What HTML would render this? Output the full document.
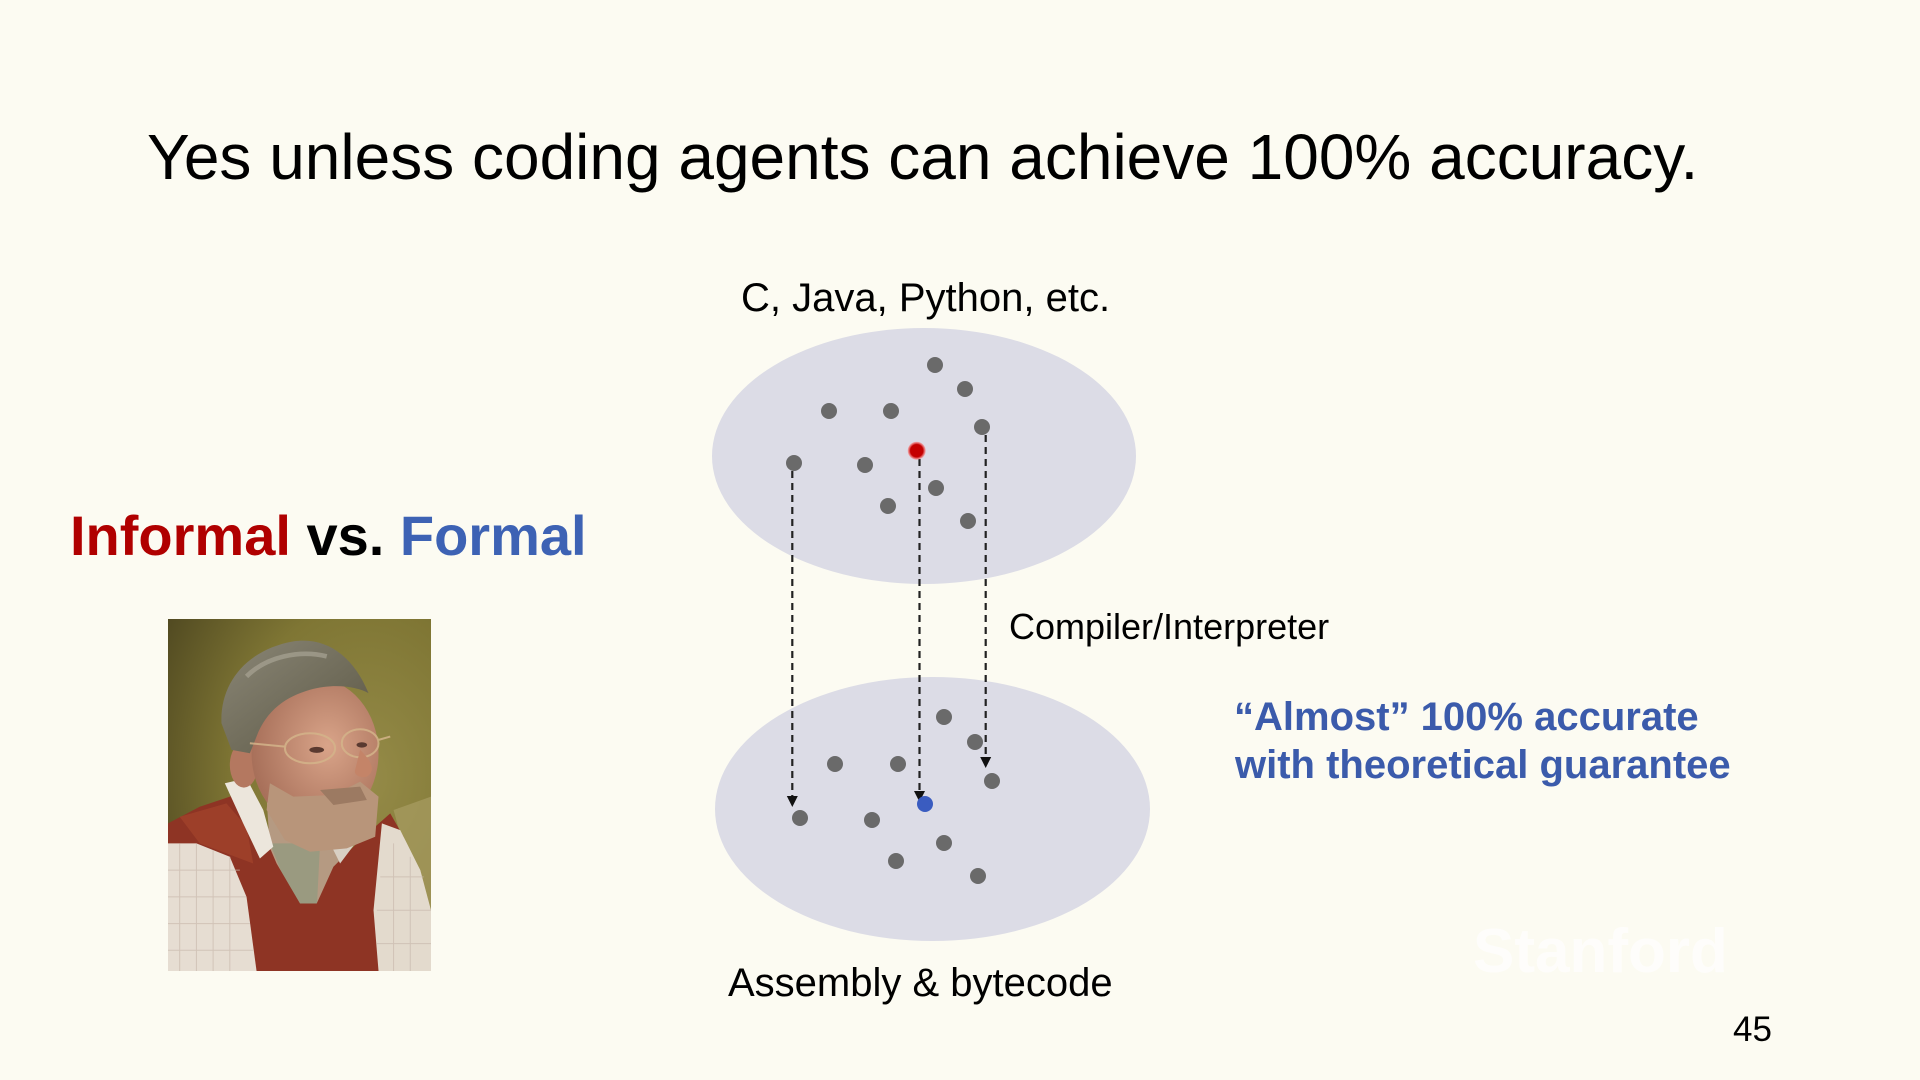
<!DOCTYPE html>
<html>
<head>
<meta charset="utf-8">
<style>
  html, body { margin: 0; padding: 0; background: #fcfbf2; }
  body { width: 1920px; height: 1080px; overflow: hidden; }
  svg { display: block; }
</style>
</head>
<body>
<svg width="1920" height="1080" viewBox="0 0 1920 1080" xmlns="http://www.w3.org/2000/svg">
  <defs>
    <radialGradient id="bgPhoto" cx="0.75" cy="0.45" r="0.9">
      <stop offset="0" stop-color="#958b48"/>
      <stop offset="0.55" stop-color="#7f7634"/>
      <stop offset="1" stop-color="#4e4720"/>
    </radialGradient>
    <radialGradient id="face" cx="0.6" cy="0.45" r="0.6">
      <stop offset="0" stop-color="#d9a489"/>
      <stop offset="1" stop-color="#a8705a"/>
    </radialGradient>
    <linearGradient id="hair" x1="0" y1="0" x2="1" y2="1">
      <stop offset="0" stop-color="#8a8676"/>
      <stop offset="0.6" stop-color="#6e6a58"/>
      <stop offset="1" stop-color="#5a5240"/>
    </linearGradient>
    <radialGradient id="reddot" cx="0.5" cy="0.5" r="0.5">
      <stop offset="0.7" stop-color="#c40000"/>
      <stop offset="1" stop-color="#ff8a8a" stop-opacity="0.6"/>
    </radialGradient>
  </defs>

  <rect x="0" y="0" width="1920" height="1080" fill="#fcfbf2"/>

  <!-- Title -->
  <text x="147" y="179" font-family="'Liberation Sans', Arial, sans-serif" font-size="64" fill="#000">Yes unless coding agents can achieve 100% accuracy.</text>

  <!-- Informal vs. Formal -->
  <text x="70" y="555" font-family="'Liberation Sans', Arial, sans-serif" font-size="56" font-weight="bold"><tspan fill="#b00000">Informal</tspan><tspan fill="#000"> vs. </tspan><tspan fill="#3d62b4">Formal</tspan></text>

  <!-- Photo -->
  <svg x="168" y="619" width="263" height="352" viewBox="25 28 787 1054" preserveAspectRatio="none">
    <rect x="25" y="28" width="787" height="1054" fill="url(#bgPhoto)"/>
    <path d="M700 600 L812 560 L812 900 L760 820 Z" fill="#a89c62" opacity="0.7"/>
    <!-- neck / inner shirt -->
    <path d="M320 560 L520 560 L540 760 L470 900 L400 880 L330 720 Z" fill="#b59a82"/>
    <path d="M330 700 L480 700 L470 900 L410 900 Z" fill="#9a9a80"/>
    <!-- vest -->
    <path d="M25 640 L120 590 L225 555 L290 620 L350 760 L420 880 L470 880 L520 770 L600 690 L690 610 L730 680 L745 1082 L25 1082 Z" fill="#8e3424"/>
    <path d="M60 620 L200 580 L260 650 L280 760 L120 700 Z" fill="#a4442c" opacity="0.7"/>
    <!-- left sleeve -->
    <path d="M25 700 L110 700 L210 740 L260 860 L290 1082 L25 1082 Z" fill="#e6ddd2"/>
    <!-- right sleeve -->
    <path d="M665 640 L720 660 L780 780 L812 900 L812 1082 L655 1082 L640 900 Z" fill="#e3dacd"/>
    <!-- checks -->
    <g stroke="#c9b9ad" stroke-width="3" opacity="0.7">
      <line x1="60" y1="700" x2="60" y2="1082"/><line x1="110" y1="700" x2="110" y2="1082"/>
      <line x1="160" y1="720" x2="160" y2="1082"/><line x1="210" y1="740" x2="210" y2="1082"/>
      <line x1="25" y1="780" x2="240" y2="780"/><line x1="25" y1="860" x2="260" y2="860"/>
      <line x1="25" y1="940" x2="270" y2="940"/><line x1="25" y1="1020" x2="280" y2="1020"/>
      <line x1="700" y1="700" x2="700" y2="1082"/><line x1="750" y1="740" x2="750" y2="1082"/>
      <line x1="660" y1="800" x2="790" y2="800"/><line x1="650" y1="900" x2="812" y2="900"/>
      <line x1="650" y1="1000" x2="812" y2="1000"/>
    </g>
    <!-- collar -->
    <path d="M195 520 L260 505 L310 600 L340 710 L300 745 L250 640 Z" fill="#ece6dc"/>
    <path d="M500 610 L560 600 L600 680 L540 760 L510 700 Z" fill="#d8d0c4"/>
    <!-- ear -->
    <ellipse cx="252" cy="465" rx="42" ry="68" fill="#b47860"/>
    <!-- face -->
    <ellipse cx="465" cy="430" rx="190" ry="225" fill="url(#face)"/>
    <!-- beard -->
    <path d="M330 520 L400 560 L520 555 L600 515 L655 560 L645 680 L560 715 L450 725 L375 690 L320 600 Z" fill="#b8957a"/>
    <path d="M480 540 L600 530 L620 570 L520 585 Z" fill="#9c7a62"/>
    <!-- hair -->
    <path d="M185 340 C180 220 260 120 400 95 C500 80 580 140 625 250 C590 230 520 220 450 240 C380 260 320 300 290 380 L270 430 L215 420 Z" fill="url(#hair)"/>
    <path d="M260 200 C320 140 420 120 500 140" stroke="#a8a494" stroke-width="14" fill="none" opacity="0.7"/>
    <!-- glasses -->
    <g fill="none" stroke="#d4b48a" stroke-width="6" opacity="0.85">
      <ellipse cx="450" cy="415" rx="75" ry="45"/>
      <ellipse cx="600" cy="400" rx="55" ry="42"/>
      <line x1="270" y1="400" x2="375" y2="410"/>
      <line x1="655" y1="390" x2="690" y2="380"/>
    </g>
    <!-- eyes -->
    <ellipse cx="470" cy="420" rx="22" ry="9" fill="#5a3a30"/>
    <ellipse cx="605" cy="405" rx="16" ry="8" fill="#5a3a30"/>
    <!-- nose -->
    <path d="M600 420 C630 450 650 480 620 500 C600 505 580 495 585 480 Z" fill="#c48468"/>
  </svg>

  <!-- Ellipses -->
  <ellipse cx="924" cy="456" rx="212" ry="128" fill="#dcdce6"/>
  <ellipse cx="932.5" cy="809" rx="217.5" ry="132" fill="#dcdce6"/>

  <!-- Dashed connectors -->
  <g stroke="#222" stroke-width="2.2" stroke-dasharray="7 5" fill="none">
    <line x1="792.3" y1="471" x2="792.3" y2="797"/>
    <line x1="919.5" y1="459" x2="919.5" y2="792"/>
    <line x1="985.7" y1="435" x2="985.7" y2="758"/>
  </g>
  <g fill="#111">
    <polygon points="786.8,796 797.8,796 792.3,807"/>
    <polygon points="914,791 925,791 919.5,802"/>
    <polygon points="980.2,757 991.2,757 985.7,768"/>
  </g>

  <!-- Top dots -->
  <g fill="#6a6a6a">
    <circle cx="935" cy="365" r="8"/>
    <circle cx="965" cy="389" r="8"/>
    <circle cx="829" cy="411" r="8"/>
    <circle cx="891" cy="411" r="8"/>
    <circle cx="982" cy="427" r="8"/>
    <circle cx="794" cy="463" r="8"/>
    <circle cx="865" cy="465" r="8"/>
    <circle cx="936" cy="488" r="8"/>
    <circle cx="888" cy="506" r="8"/>
    <circle cx="968" cy="521" r="8"/>
  </g>
  <circle cx="916.7" cy="450.7" r="9" fill="url(#reddot)"/>

  <!-- Bottom dots -->
  <g fill="#6a6a6a">
    <circle cx="944" cy="717" r="8"/>
    <circle cx="975" cy="742" r="8"/>
    <circle cx="835" cy="764" r="8"/>
    <circle cx="898" cy="764" r="8"/>
    <circle cx="992" cy="781" r="8"/>
    <circle cx="800" cy="818" r="8"/>
    <circle cx="872" cy="820" r="8"/>
    <circle cx="944" cy="843" r="8"/>
    <circle cx="896" cy="861" r="8"/>
    <circle cx="978" cy="876" r="8"/>
  </g>
  <circle cx="925" cy="804" r="8" fill="#3a5cc0"/>

  <!-- Labels -->
  <text x="741" y="311" font-family="'Liberation Sans', Arial, sans-serif" font-size="40" fill="#000">C, Java, Python, etc.</text>
  <text x="1009" y="639" font-family="'Liberation Sans', Arial, sans-serif" font-size="36" fill="#000">Compiler/Interpreter</text>
  <text x="728" y="996" font-family="'Liberation Sans', Arial, sans-serif" font-size="40" fill="#000">Assembly &amp; bytecode</text>

  <text font-family="'Liberation Sans', Arial, sans-serif" font-size="40" font-weight="bold" fill="#3b5bab">
    <tspan x="1234" y="730">“Almost” 100% accurate</tspan>
    <tspan x="1235" y="778">with theoretical guarantee</tspan>
  </text>

  <!-- Watermark -->
  <text x="1473" y="972" font-family="'Liberation Sans', Arial, sans-serif" font-size="62" font-weight="bold" fill="#ffffff" opacity="0.7">Stanford</text>

  <!-- Page number -->
  <text x="1733" y="1041" font-family="'Liberation Sans', Arial, sans-serif" font-size="35" fill="#000">45</text>
</svg>
</body>
</html>
